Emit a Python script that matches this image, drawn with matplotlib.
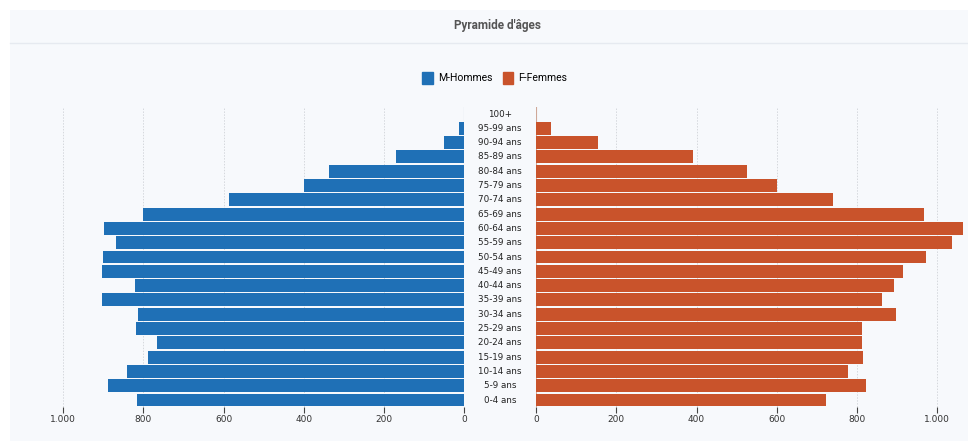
import matplotlib.pyplot as plt
from matplotlib.patches import Rectangle
from matplotlib.lines import Line2D

# Tranches d'âge, du haut vers le bas
ages = ["100+", "95-99 ans", "90-94 ans", "85-89 ans", "80-84 ans", "75-79 ans",
        "70-74 ans", "65-69 ans", "60-64 ans", "55-59 ans", "50-54 ans",
        "45-49 ans", "40-44 ans", "35-39 ans", "30-34 ans", "25-29 ans",
        "20-24 ans", "15-19 ans", "10-14 ans", "5-9 ans", "0-4 ans"]
hommes = [1, 13, 51, 170, 338, 399, 586, 801, 898, 868, 900,
          903, 822, 903, 813, 819, 767, 789, 842, 889, 816]
femmes = [1, 37, 155, 390, 527, 600, 739, 968, 1064, 1036, 971,
          915, 893, 861, 897, 813, 813, 815, 778, 822, 723]
ticks = [0, 200, 400, 600, 800, 1000]
tick_labels = ["0", "200", "400", "600", "800", "1.000"]

BLEU = "#1f70b6"
ROUGE = "#c9532b"
FOND = "#f7f9fc"
W, H = 968, 441

fig = plt.figure(figsize=(W / 100, H / 100), dpi=100)
fig.patch.set_facecolor("white")

# panneau et bandeau de titre
fig.patches.append(Rectangle((10 / W, 0), (W - 10) / W, (H - 10) / H,
                             transform=fig.transFigure, facecolor=FOND,
                             edgecolor="none", zorder=-5))
fig.lines.append(Line2D([10 / W, 1], [1 - 43 / H] * 2, transform=fig.transFigure,
                        color="#e6eaf0", lw=1, zorder=-4))
fig.text(498 / W, 1 - 25 / H, "Pyramide d'âges", ha="center", va="center",
         fontsize=8.5, fontweight="bold", color="#555555", family="Roboto")

n = len(ages)
y = [n - 1 - i for i in range(n)]
xmax = 1070
bottom = 1 - 407.2 / H
height = (407.2 - 106.85) / H

ax_l = fig.add_axes([35.3 / W, bottom, (464 - 35.3) / W, height])
ax_r = fig.add_axes([536 / W, bottom, 429.4 / W, height])

ax_l.barh(y, hommes, height=0.9, color=BLEU, zorder=3)
ax_r.barh(y, femmes, height=0.9, color=ROUGE, zorder=3)

for ax in (ax_l, ax_r):
    ax.set_facecolor("none")
    ax.set_xlim(0, xmax)
    ax.set_ylim(-0.5, n - 0.5)
    ax.set_yticks([])
    ax.set_xticks(ticks)
    ax.set_xticklabels(tick_labels)
    ax.tick_params(axis="x", length=4, width=0.8, color="#444444",
                   labelsize=6.5, labelcolor="#333333", pad=1.5)
    for s in ax.spines.values():
        s.set_visible(False)
    for t in ticks[1:]:
        ax.axvline(t, color="#d5d8dd", lw=0.7, ls=(0, (1.5, 1.5)), zorder=1)
ax_l.invert_xaxis()
ax_l.axvline(0, color="#9fb6cc", lw=0.8, zorder=2)
ax_r.axvline(0, color="#cfa898", lw=0.8, zorder=2)

# libellés des tranches entre les deux côtés
for yy, lab in zip(y, ages):
    ax_r.text(-36 / 429.4, yy, lab, transform=ax_r.get_yaxis_transform(),
              ha="center", va="center", fontsize=6.3, color="#222222")

# légende
handles = [Rectangle((0, 0), 1, 1, color=BLEU), Rectangle((0, 0), 1, 1, color=ROUGE)]
fig.legend(handles, ["M-Hommes", "F-Femmes"], loc="center",
           bbox_to_anchor=(495 / W, 1 - 78 / H), ncol=2, frameon=False,
           prop={"family": "Roboto", "size": 7.5}, handlelength=1.0,
           handleheight=1.5, handletextpad=0.5, columnspacing=1.0)

fig.savefig("out.png", dpi=100, facecolor=fig.get_facecolor())
